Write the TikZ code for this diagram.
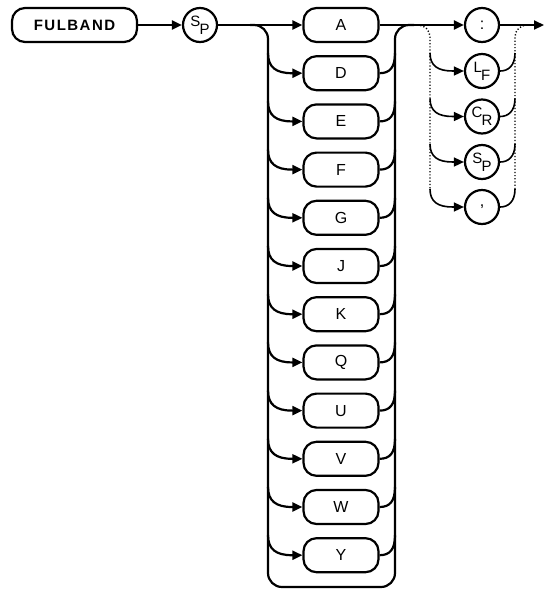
\documentclass[tikz,border=0pt]{standalone}
\usepackage{fontspec}
\setmainfont{Liberation Sans}
\usetikzlibrary{arrows.meta}
\newcommand\hpsub[2]{\raisebox{4pt}{#1}\kern-0.8pt\raisebox{-4pt}{#2}}
\begin{document}
\begin{tikzpicture}[x=1pt,y=-1pt,line width=2.2pt,
  box/.style={draw, rounded corners=13pt, minimum width=75pt, minimum height=34pt, inner sep=0pt, font=\fontsize{16}{16}\selectfont},
  circ/.style={draw, circle, minimum size=34pt, inner sep=0pt, font=\fontsize{15}{15}\selectfont},
  arr/.style={-{Triangle[length=10pt,width=9pt]}},
  dots/.style={line width=1.4pt, dash pattern=on 1.2pt off 2pt},
  thinline/.style={line width=1.6pt}]
\useasboundingbox (0,0) rectangle (545,590);
% entry
\node[box, minimum width=125pt, font=\fontsize{15}{15}\selectfont] (ful) at (74.5,25) {\bfseries\addfontfeature{LetterSpace=10}FULBAND};
\node[circ] (sp) at (200,25) {\hpsub{S}{P}};
% parameter list
\foreach \t [count=\i from 0] in {A,D,E,F,G,J,K,Q,U,V,W,Y} {
  \node[box] (r\i) at (341,{25+48.2*\i}) {\t};
}
\foreach \i in {1,...,11} {
  \pgfmathsetmacro\yc{25+48.2*\i}
  \coordinate (bl\i) at (268,\yc-20);
  \coordinate (br\i) at (395,\yc-20);
  \draw[arr] (bl\i) .. controls (268,\yc-6) and (276,\yc) .. (292,\yc) -- (r\i.west);
  \draw (r\i.east) .. controls (390,\yc) and (395,\yc-6) .. (br\i);
}
% bus loop
\coordinate (busin) at (250,25);
\coordinate (busout) at (414,25);
\draw[rounded corners=14pt] (busin) -- (268,25) -- (268,587) -- (395,587) -- (395,25) -- (busout);
% terminators
\node[circ, font=\fontsize{16}{16}\selectfont] (t0) at (482,25) {:};
\node[circ] (t1) at (482,71) {\hpsub{L}{F}};
\node[circ] (t2) at (482,116.5) {\hpsub{C}{R}};
\node[circ] (t3) at (482,162) {\hpsub{S}{P}};
\node[circ, font=\fontsize{16}{16}\selectfont] (t4) at (482,207) {\raisebox{-2pt}{,}};
\foreach \i/\yc in {1/71,2/116.5,3/162,4/207} {
  \coordinate (dl\i) at (430,\yc-18);
  \coordinate (dr\i) at (515,\yc-18);
  \draw[thinline, arr] (dl\i) .. controls (430,\yc-5) and (438,\yc) .. (453,\yc) -- (t\i.west);
  \draw[thinline] (t\i.east) .. controls (508,\yc) and (515,\yc-5) .. (dr\i);
}
\draw[dots, rounded corners=12pt] (busout) -- (430,25) -- (dl4);
\coordinate (dout) at (533,25);
\draw[dots, rounded corners=12pt] (dr4) -- (515,25) -- (dout);
% main line
\coordinate (fin) at (544,25);
\draw[arr] (ful) -- (sp);
\draw[arr] (sp) -- (r0);
\draw[arr] (r0) -- (t0);
\draw[arr] (t0) -- (fin);
\end{tikzpicture}
\end{document}
